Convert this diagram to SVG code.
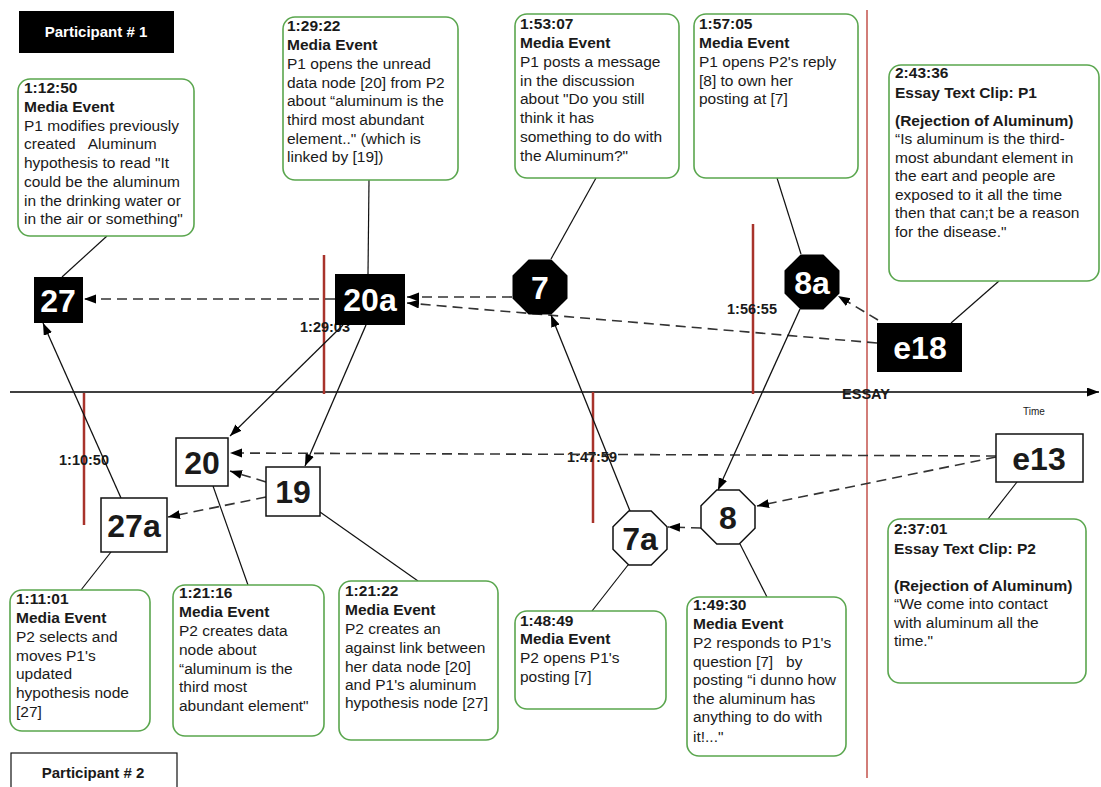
<svg xmlns="http://www.w3.org/2000/svg" width="1101" height="787" viewBox="0 0 1101 787">
<defs>
<marker id="ah" markerUnits="userSpaceOnUse" markerWidth="13" markerHeight="10" refX="12" refY="4.5" orient="auto">
<path d="M0,0 L12,4.5 L0,9 z" fill="#000"/>
</marker>
<style>
text{font-family:"Liberation Sans",Arial,sans-serif;fill:#1a1a1a}
.ct{font-size:15.5px}
.b{font-weight:bold}
.co{fill:#fff;stroke:#5aa64e;stroke-width:1.6}
.nb{fill:#000}
.nw{fill:#fff;stroke:#111;stroke-width:1.5}
.lb{font-size:32px;font-weight:bold;text-anchor:middle}
.sl{stroke:#111;stroke-width:1.2;fill:none}
.ar{stroke:#111;stroke-width:1.3;fill:none;marker-end:url(#ah)}
.da{stroke:#333;stroke-width:1.6;fill:none;stroke-dasharray:10 6;marker-end:url(#ah)}
.tm{stroke:#a8332b;stroke-width:2.5}
.tl{font-size:14.5px;font-weight:bold;text-anchor:middle}
</style>
</defs>
<rect width="1101" height="787" fill="#fff"/>

<g id="timeline">
<line x1="867" y1="10" x2="867" y2="778" stroke="#d27d78" stroke-width="2"/>
<line x1="10" y1="392" x2="1099" y2="392" stroke="#000" stroke-width="1.5" marker-end="url(#ah)"/>
<line class="tm" x1="84" y1="393" x2="84" y2="525"/>
<line class="tm" x1="324" y1="255" x2="324" y2="394"/>
<line class="tm" x1="593" y1="392" x2="593" y2="523"/>
<line class="tm" x1="753" y1="224" x2="753" y2="394"/>
<text class="tl" x="84" y="465">1:10:50</text>
<text class="tl" x="325" y="332">1:29:03</text>
<text class="tl" x="592" y="462">1:47:59</text>
<text class="tl" x="752" y="314">1:56:55</text>
<text class="tl" x="866" y="399">ESSAY</text>
<text x="1034" y="415" font-size="10" text-anchor="middle" fill="#333">Time</text>
</g>

<g id="participant1">
<rect x="19" y="11" width="155" height="42" fill="#000"/>
<text x="96" y="37" font-size="15" font-weight="bold" text-anchor="middle" style="fill:#fff">Participant # 1</text>
</g>
<g id="participant2">
<rect x="11" y="753" width="166" height="40" fill="#fff" stroke="#111" stroke-width="1.2"/>
<text x="93" y="778" font-size="15" font-weight="bold" text-anchor="middle">Participant # 2</text>
</g>

<g id="connectors">
<line class="sl" x1="107" y1="236" x2="62" y2="277"/>
<line class="sl" x1="369" y1="180" x2="368" y2="274"/>
<line class="sl" x1="596" y1="178" x2="551" y2="259"/>
<line class="sl" x1="777" y1="178" x2="801" y2="254"/>
<line class="sl" x1="999" y1="281" x2="951" y2="323"/>
<line class="sl" x1="988" y1="519" x2="1017" y2="482"/>
<line class="sl" x1="81" y1="590" x2="111" y2="552"/>
<line class="sl" x1="248" y1="585" x2="213" y2="486"/>
<line class="sl" x1="418" y1="581" x2="320" y2="512"/>
<line class="sl" x1="592" y1="611" x2="628" y2="565"/>
<line class="sl" x1="767" y1="597" x2="740" y2="544"/>
<line class="da" x1="512" y1="297" x2="407" y2="297"/>
<line class="da" x1="877" y1="343" x2="407" y2="303"/>
<line class="da" x1="335" y1="299" x2="84" y2="299"/>
<line class="da" x1="878" y1="320" x2="838" y2="296"/>
<line class="da" x1="266" y1="482" x2="230" y2="471"/>
<line class="da" x1="266" y1="497" x2="168" y2="517"/>
<line class="da" x1="996" y1="456" x2="230" y2="453"/>
<line class="da" x1="996" y1="457" x2="757" y2="506"/>
<line class="da" x1="701" y1="528" x2="668" y2="527"/>
<line class="ar" x1="800" y1="309" x2="718" y2="490"/>
<line class="ar" x1="343" y1="325" x2="230" y2="436"/>
<line class="ar" x1="366" y1="325" x2="305" y2="466"/>
<line class="ar" x1="630" y1="511" x2="551" y2="315"/>
<line class="ar" x1="121" y1="498" x2="43" y2="323"/>
</g>

<g id="n27"><rect class="nb" x="34" y="277" width="49" height="46"/><text class="lb" x="58" y="312" style="fill:#fff">27</text></g>
<g id="n20a"><rect class="nb" x="335" y="274" width="70" height="51"/><text class="lb" x="370" y="311" style="fill:#fff">20a</text></g>
<g id="n7"><polygon class="nb" points="528.6,259.5 551.4,259.5 567.5,275.6 567.5,298.4 551.4,314.5 528.6,314.5 512.5,298.4 512.5,275.6"/><text class="lb" x="540" y="299" style="fill:#fff">7</text></g>
<g id="n8a"><polygon class="nb" points="800.6,254.5 823.4,254.5 839.5,270.6 839.5,293.4 823.4,309.5 800.6,309.5 784.5,293.4 784.5,270.6"/><text class="lb" x="812" y="294" style="fill:#fff">8a</text></g>
<g id="ne18"><rect class="nb" x="877" y="323" width="85" height="49"/><text class="lb" x="920" y="359" style="fill:#fff">e18</text></g>
<g id="n20"><rect class="nw" x="176" y="438" width="52" height="48"/><text class="lb" x="202" y="474">20</text></g>
<g id="n19"><rect class="nw" x="266" y="467" width="54" height="49"/><text class="lb" x="293" y="503">19</text></g>
<g id="n27a"><rect class="nw" x="101" y="498" width="66" height="54"/><text class="lb" x="134" y="537">27a</text></g>
<g id="n7a"><polygon class="nw" points="628.8,511 651.2,511 667,526.8 667,549.2 651.2,565 628.8,565 613,549.2 613,526.8"/><text class="lb" x="640" y="550">7a</text></g>
<g id="n8"><polygon class="nw" points="716.8,490 739.2,490 755,505.8 755,528.2 739.2,544 716.8,544 701,528.2 701,505.8"/><text class="lb" x="728" y="529">8</text></g>
<g id="ne13"><rect class="nw" x="996" y="434" width="87" height="48"/><text class="lb" x="1039" y="470">e13</text></g>

<g id="c1">
<rect class="co" x="18" y="79" width="176" height="157" rx="12"/>
<text class="ct" xml:space="preserve"><tspan class="b" x="24" y="93">1:12:50</tspan><tspan class="b" x="24" y="112">Media Event</tspan><tspan x="24" y="131">P1 modifies previously</tspan><tspan x="24" y="149">created   Aluminum</tspan><tspan x="24" y="168">hypothesis to read "It</tspan><tspan x="24" y="187">could be the aluminum</tspan><tspan x="24" y="206">in the drinking water or</tspan><tspan x="24" y="224">in the air or something"</tspan></text>
</g>
<g id="c2">
<rect class="co" x="283" y="17" width="175" height="163" rx="12"/>
<text class="ct"><tspan class="b" x="287" y="31">1:29:22</tspan><tspan class="b" x="287" y="50">Media Event</tspan><tspan x="287" y="69">P1 opens the unread</tspan><tspan x="287" y="88">data node [20] from P2</tspan><tspan x="287" y="106">about “aluminum is the</tspan><tspan x="287" y="125">third most abundant</tspan><tspan x="287" y="144">element.." (which is</tspan><tspan x="287" y="162">linked by [19])</tspan></text>
</g>
<g id="c3">
<rect class="co" x="515" y="14" width="164" height="164" rx="12"/>
<text class="ct"><tspan class="b" x="520" y="29">1:53:07</tspan><tspan class="b" x="520" y="48">Media Event</tspan><tspan x="520" y="67">P1 posts a message</tspan><tspan x="520" y="86">in the discussion</tspan><tspan x="520" y="104">about "Do you still</tspan><tspan x="520" y="123">think it has</tspan><tspan x="520" y="142">something to do with</tspan><tspan x="520" y="161">the Aluminum?"</tspan></text>
</g>
<g id="c4">
<rect class="co" x="694" y="14" width="164" height="164" rx="12"/>
<text class="ct"><tspan class="b" x="699" y="29">1:57:05</tspan><tspan class="b" x="699" y="48">Media Event</tspan><tspan x="699" y="67">P1 opens P2's reply</tspan><tspan x="699" y="86">[8] to own her</tspan><tspan x="699" y="104">posting at [7]</tspan></text>
</g>
<g id="c5">
<rect class="co" x="889" y="65" width="210" height="216" rx="12"/>
<text class="ct"><tspan class="b" x="895" y="78">2:43:36</tspan><tspan class="b" x="895" y="98">Essay Text Clip: P1</tspan><tspan class="b" x="895" y="126">(Rejection of Aluminum)</tspan><tspan x="895" y="144">“Is aluminum is the third-</tspan><tspan x="895" y="163">most abundant element in</tspan><tspan x="895" y="181">the eart and people are</tspan><tspan x="895" y="200">exposed to it all the time</tspan><tspan x="895" y="218">then that can;t be a reason</tspan><tspan x="895" y="237">for the disease."</tspan></text>
</g>
<g id="c6">
<rect class="co" x="888" y="519" width="198" height="164" rx="12"/>
<text class="ct"><tspan class="b" x="894" y="534">2:37:01</tspan><tspan class="b" x="894" y="554">Essay Text Clip: P2</tspan><tspan class="b" x="894" y="591">(Rejection of Aluminum)</tspan><tspan x="894" y="609">“We come into contact</tspan><tspan x="894" y="628">with aluminum all the</tspan><tspan x="894" y="646">time."</tspan></text>
</g>
<g id="c7">
<rect class="co" x="10" y="590" width="140" height="141" rx="12"/>
<text class="ct"><tspan class="b" x="16" y="604">1:11:01</tspan><tspan class="b" x="16" y="623">Media Event</tspan><tspan x="16" y="642">P2 selects and</tspan><tspan x="16" y="661">moves P1's</tspan><tspan x="16" y="679">updated</tspan><tspan x="16" y="698">hypothesis node</tspan><tspan x="16" y="717">[27]</tspan></text>
</g>
<g id="c8">
<rect class="co" x="173" y="585" width="151" height="151" rx="12"/>
<text class="ct"><tspan class="b" x="179" y="598">1:21:16</tspan><tspan class="b" x="179" y="617">Media Event</tspan><tspan x="179" y="636">P2 creates data</tspan><tspan x="179" y="655">node about</tspan><tspan x="179" y="674">“aluminum is the</tspan><tspan x="179" y="692">third most</tspan><tspan x="179" y="711">abundant element"</tspan></text>
</g>
<g id="c9">
<rect class="co" x="339" y="581" width="159" height="159" rx="12"/>
<text class="ct"><tspan class="b" x="345" y="596">1:21:22</tspan><tspan class="b" x="345" y="615">Media Event</tspan><tspan x="345" y="634">P2 creates an</tspan><tspan x="345" y="653">against link between</tspan><tspan x="345" y="672">her data node [20]</tspan><tspan x="345" y="690">and P1's aluminum</tspan><tspan x="345" y="708">hypothesis node [27]</tspan></text>
</g>
<g id="c10">
<rect class="co" x="515" y="611" width="151" height="98" rx="12"/>
<text class="ct"><tspan class="b" x="520" y="626">1:48:49</tspan><tspan class="b" x="520" y="644">Media Event</tspan><tspan x="520" y="663">P2 opens P1's</tspan><tspan x="520" y="682">posting [7]</tspan></text>
</g>
<g id="c11">
<rect class="co" x="687" y="597" width="159" height="159" rx="12"/>
<text class="ct" xml:space="preserve"><tspan class="b" x="693" y="610">1:49:30</tspan><tspan class="b" x="693" y="629">Media Event</tspan><tspan x="693" y="648">P2 responds to P1's</tspan><tspan x="693" y="667">question [7]   by</tspan><tspan x="693" y="685">posting “i dunno how</tspan><tspan x="693" y="704">the aluminum has</tspan><tspan x="693" y="722">anything to do with</tspan><tspan x="693" y="742">it!..."</tspan></text>
</g>
</svg>
